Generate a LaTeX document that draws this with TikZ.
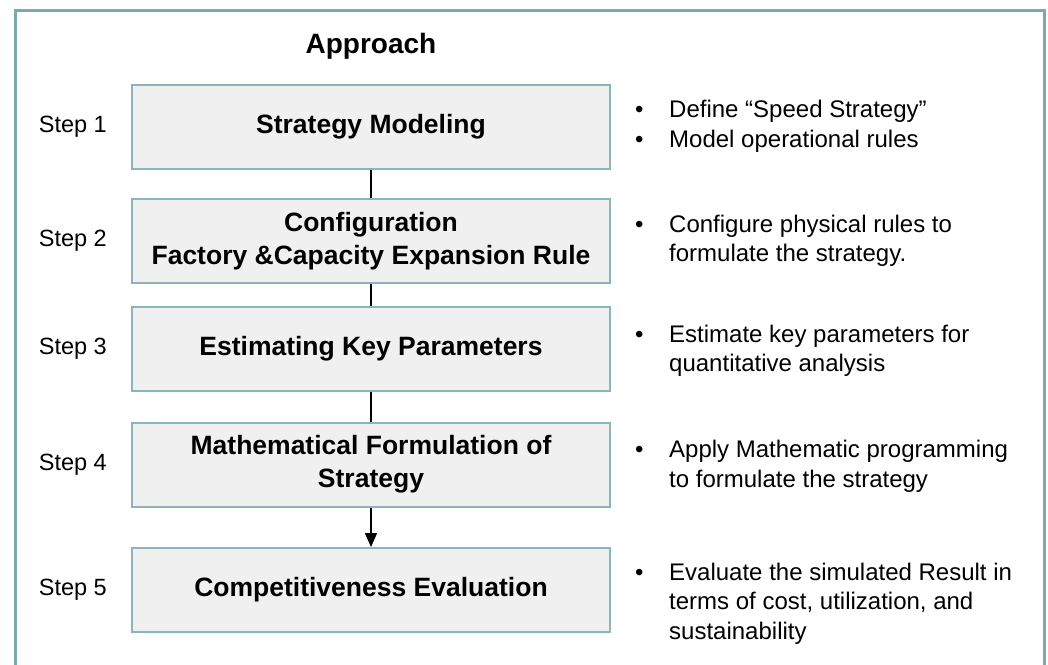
\documentclass[tikz,border=0pt]{standalone}
\usepackage{fontspec}
\setmainfont{Liberation Sans}
\usepackage{tikz}
\usetikzlibrary{positioning}
\usetikzlibrary{arrows.meta}
\definecolor{frameline}{HTML}{7AAAB0}
\definecolor{boxline}{HTML}{8AB5BA}
\definecolor{boxfill}{HTML}{F0F0F0}
\tikzset{%
  stepbox/.style = {rectangle,draw=boxline,fill=boxfill,line width=2pt,
        minimum width=478pt,minimum height=84pt,align=center,
        font=\fontsize{26.5}{33}\selectfont\bfseries},
  steplabel/.style = {inner sep=0pt,font=\fontsize{23.5}{28}\selectfont},
  note/.style = {inner sep=0pt,font=\fontsize{24}{29.5}\selectfont},
  link/.style = {line width=1.5pt},
  linkarrow/.style = {line width=1.5pt,-{Triangle[length=14pt,width=12pt]}}
}

\begin{document}
\begin{tikzpicture}[x=1pt,y=-1pt]
    \useasboundingbox (0,0) rectangle (1048,664);
    \draw[frameline,line width=2.5pt] (15.5,10.5) rectangle (1044.5,690);

    \node[stepbox] (model) at (371,126.5) {Strategy Modeling};
    \node[stepbox] (config) at (371,241) {Configuration\\Factory \&Capacity Expansion Rule};
    \node[stepbox] (estim) at (371,349) {Estimating Key Parameters};
    \node[stepbox] (formul) at (371,464.5) {Mathematical Formulation of\\Strategy};
    \node[stepbox] (evalu) at (371,590) {Competitiveness Evaluation};

    \node[above=24pt of model,inner sep=0pt,font=\fontsize{28}{33}\selectfont\bfseries] (title) {Approach};

    \node[steplabel,left=24pt of model] (s1) {Step 1};
    \node[steplabel,left=24pt of config] (s2) {Step 2};
    \node[steplabel,left=24pt of estim] (s3) {Step 3};
    \node[steplabel,left=24pt of formul] (s4) {Step 4};
    \node[steplabel,left=24pt of evalu] (s5) {Step 5};

    \node[note,right=24pt of model] (n1) {\begin{tabular}{@{}p{34pt}@{}l@{}}
        \textbullet & Define “Speed Strategy”\\
        \textbullet & Model operational rules
    \end{tabular}};
    \node[note,right=24pt of config] (n2) {\begin{tabular}{@{}p{34pt}@{}l@{}}
        \textbullet & Configure physical rules to\\
        & formulate the strategy.
    \end{tabular}};
    \node[note,right=24pt of estim,yshift=-2pt] (n3) {\begin{tabular}{@{}p{34pt}@{}l@{}}
        \textbullet & Estimate key parameters for\\
        & quantitative analysis
    \end{tabular}};
    \node[note,right=24pt of formul,yshift=-2pt] (n4) {\begin{tabular}{@{}p{34pt}@{}l@{}}
        \textbullet & Apply Mathematic programming\\
        & to formulate the strategy
    \end{tabular}};
    \node[note,right=24pt of evalu,yshift=-14pt] (n5) {\begin{tabular}{@{}p{34pt}@{}l@{}}
        \textbullet & Evaluate the simulated Result in\\
        & terms of cost, utilization, and\\
        & sustainability
    \end{tabular}};

    \draw[link] (model) -- (config);
    \draw[link] (config) -- (estim);
    \draw[link] (estim) -- (formul);
    \draw[linkarrow] (formul) -- (evalu);
\end{tikzpicture}
\end{document}
